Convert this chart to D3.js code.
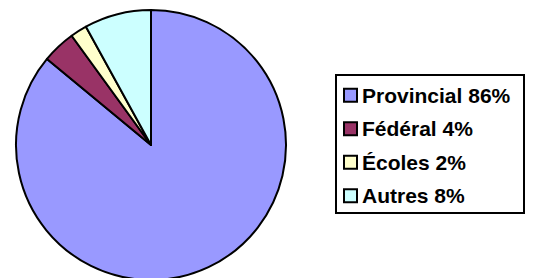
<!DOCTYPE html>
<html>
<head>
<meta charset="utf-8">
<script src="https://cdn.jsdelivr.net/npm/d3@7"></script>
<style>
  body { margin: 0; background: #fff; }
  svg { display: block; }
</style>
</head>
<body>
<div id="chart"></div>
<script>
// data
const categories = ["Provincial", "Fédéral", "Écoles", "Autres"];
const shares = [86, 4, 2, 8];
const colors = ["#9999FF", "#993366", "#FFFFCC", "#CCFFFF"];

const width = 533;
const height = 278;
const cx = 151, cy = 145, radius = 135;

const data = categories.map((c, i) => ({ name: c, value: shares[i], color: colors[i] }));

const svg = d3.select('#chart')
  .append('svg')
  .attr('width', width)
  .attr('height', height);

// pie, clockwise from 12 o'clock in data order
const pie = d3.pie()
  .sort(null)
  .value(d => d.value);

const arc = d3.arc()
  .innerRadius(0)
  .outerRadius(radius);

svg.append('g')
  .attr('transform', `translate(${cx},${cy})`)
  .selectAll('path')
  .data(pie(data))
  .enter()
  .append('path')
  .attr('d', arc)
  .attr('fill', d => d.data.color)
  .attr('stroke', '#000')
  .attr('stroke-width', 2)
  .attr('stroke-linejoin', 'round');

// legend
const legend = svg.append('g');
legend.append('rect')
  .attr('x', 336)
  .attr('y', 75)
  .attr('width', 188)
  .attr('height', 138)
  .attr('fill', '#fff')
  .attr('stroke', '#000')
  .attr('stroke-width', 2);

const row = d3.scaleBand()
  .domain(categories)
  .range([78, 212]);

const items = legend.selectAll('g.item')
  .data(data)
  .enter()
  .append('g')
  .attr('class', 'item')
  .attr('transform', d => `translate(0,${row(d.name) + row.bandwidth() / 2})`);

items.append('rect')
  .attr('x', 344)
  .attr('y', -6)
  .attr('width', 13)
  .attr('height', 13)
  .attr('fill', d => d.color)
  .attr('stroke', '#000')
  .attr('stroke-width', 2);

items.append('text')
  .attr('x', 362)
  .attr('y', 8)
  .attr('font-family', 'Liberation Sans, Arial, sans-serif')
  .attr('font-weight', 'bold')
  .attr('font-size', 21)
  .attr('fill', '#000')
  .text(d => `${d.name} ${d.value}%`);
</script>
</body>
</html>
